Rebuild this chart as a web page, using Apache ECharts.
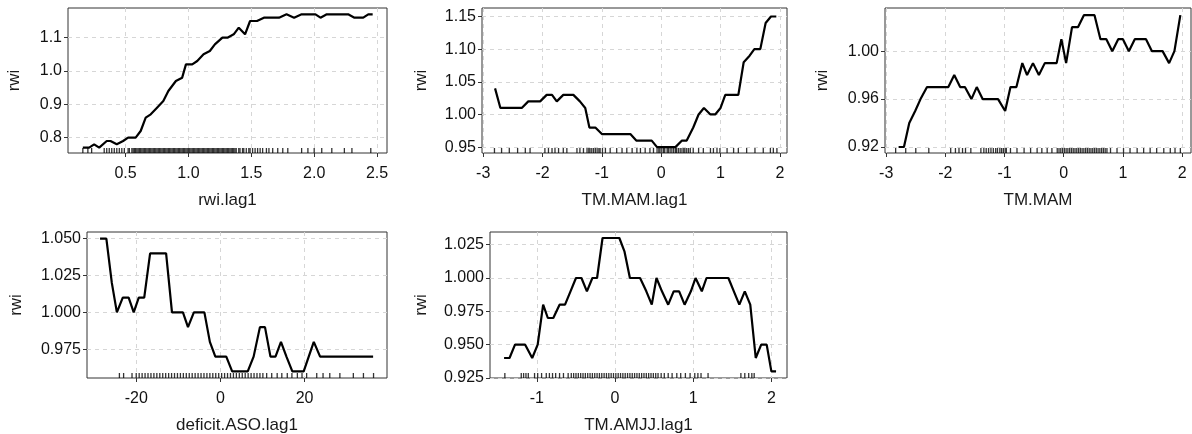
<!DOCTYPE html>
<html>
<head>
<meta charset="UTF-8">
<title>rwi partial dependence</title>
<script src="https://cdn.jsdelivr.net/npm/echarts@6/dist/echarts.min.js"></script>
<style type="text/css">
html, body { margin: 0; padding: 0; background: #fff; }
#main { width: 1192px; height: 434px; }
</style>
</head>
<body>
<div id="main"></div>
<script type="text/javascript">
// panel 1: rwi.lag1
var rwiLag1X = [0.16,0.21,0.25,0.29,0.35,0.38,0.43,0.48,0.52,0.58,0.62,0.66,0.70,0.75,0.80,0.84,0.90,0.95,0.98,1.03,1.07,1.12,1.17,1.21,1.27,1.31,1.36,1.40,1.45,1.49,1.545,1.60,1.72,1.78,1.84,1.90,2.01,2.05,2.10,2.27,2.32,2.39,2.43,2.465];
var rwiLag1Y = [0.77,0.77,0.78,0.77,0.79,0.79,0.78,0.79,0.80,0.80,0.82,0.86,0.87,0.89,0.91,0.94,0.97,0.98,1.02,1.02,1.03,1.05,1.06,1.08,1.10,1.10,1.11,1.13,1.11,1.15,1.15,1.16,1.16,1.17,1.16,1.17,1.17,1.16,1.17,1.17,1.16,1.16,1.17,1.17];
var rwiLag1Rug = [0.16,0.20,0.23,0.33,0.35,0.37,0.39,0.41,0.43,0.45,0.47,0.49,0.52,0.53,0.55,0.56,0.57,0.58,0.59,0.60,0.61,0.62,0.63,0.64,0.65,0.66,0.67,0.68,0.69,0.70,0.71,0.72,0.73,0.74,0.75,0.76,0.77,0.78,0.79,0.80,0.81,0.82,0.83,0.84,0.85,0.86,0.87,0.88,0.89,0.90,0.91,0.92,0.93,0.94,0.95,0.96,0.97,0.98,0.99,1.00,1.01,1.02,1.03,1.04,1.05,1.06,1.07,1.08,1.09,1.10,1.11,1.12,1.13,1.14,1.15,1.16,1.17,1.18,1.19,1.20,1.21,1.22,1.23,1.24,1.25,1.26,1.27,1.28,1.29,1.30,1.31,1.32,1.33,1.34,1.35,1.36,1.37,1.38,1.40,1.41,1.43,1.44,1.46,1.48,1.49,1.51,1.53,1.55,1.57,1.59,1.62,1.64,1.67,1.71,1.75,1.79,1.90,1.95,2.00,2.06,2.14,2.24,2.30,2.45];

// panel 2: TM.MAM.lag1
var tmMamLag1X = [-2.80,-2.71,-2.35,-2.24,-2.04,-1.93,-1.84,-1.76,-1.65,-1.48,-1.37,-1.28,-1.21,-1.11,-1.00,-0.52,-0.42,-0.16,-0.07,0.24,0.35,0.43,0.54,0.63,0.72,0.83,0.91,1.00,1.08,1.30,1.39,1.49,1.57,1.67,1.76,1.85,1.94];
var tmMamLag1Y = [1.04,1.01,1.01,1.02,1.02,1.03,1.03,1.02,1.03,1.03,1.02,1.01,0.98,0.98,0.97,0.97,0.96,0.96,0.95,0.95,0.96,0.96,0.98,1.00,1.01,1.00,1.00,1.01,1.03,1.03,1.08,1.09,1.10,1.10,1.14,1.15,1.15];
var tmMamLag1Rug = [-2.81,-2.69,-2.56,-2.42,-2.29,-2.21,-1.96,-1.90,-1.84,-1.79,-1.73,-1.65,-1.59,-1.42,-1.37,-1.31,-1.25,-1.22,-1.20,-1.17,-1.14,-1.11,-1.08,-1.05,-1.03,-0.99,-0.94,-0.86,-0.75,-0.66,-0.58,-0.49,-0.41,-0.35,-0.27,-0.19,-0.13,-0.07,-0.04,-0.02,0.01,0.04,0.06,0.10,0.12,0.15,0.18,0.21,0.24,0.26,0.29,0.32,0.35,0.38,0.40,0.43,0.46,0.49,0.54,0.63,0.71,0.83,0.88,0.94,0.99,1.11,1.22,1.30,1.44,1.58,1.72,1.84,1.89,1.95];

// panel 3: TM.MAM
var tmMamX = [-2.79,-2.70,-2.61,-2.51,-2.42,-2.31,-1.95,-1.85,-1.75,-1.67,-1.56,-1.47,-1.37,-1.11,-0.99,-0.90,-0.80,-0.70,-0.62,-0.52,-0.42,-0.32,-0.12,-0.04,0.04,0.14,0.24,0.34,0.52,0.62,0.72,0.82,0.92,1.00,1.10,1.20,1.39,1.49,1.67,1.78,1.87,1.97];
var tmMamY = [0.92,0.92,0.94,0.95,0.96,0.97,0.97,0.98,0.97,0.97,0.96,0.97,0.96,0.96,0.95,0.97,0.97,0.99,0.98,0.99,0.98,0.99,0.99,1.01,0.99,1.02,1.02,1.03,1.03,1.01,1.01,1.00,1.01,1.01,1.00,1.01,1.01,1.00,1.00,0.99,1.00,1.03];
var tmMamRug = [-2.84,-2.67,-2.50,-2.28,-1.91,-1.83,-1.77,-1.71,-1.66,-1.57,-1.40,-1.35,-1.31,-1.27,-1.23,-1.19,-1.15,-1.12,-1.08,-1.05,-1.02,-0.99,-0.97,-0.90,-0.79,-0.67,-0.56,-0.45,-0.37,-0.28,-0.20,-0.11,-0.08,-0.05,-0.02,0.01,0.04,0.07,0.10,0.13,0.16,0.19,0.22,0.25,0.28,0.31,0.34,0.37,0.40,0.43,0.46,0.49,0.52,0.55,0.58,0.61,0.64,0.67,0.70,0.73,0.79,0.90,1.01,1.12,1.24,1.35,1.46,1.57,1.69,1.80,1.88,1.97];

// panel 4: deficit.ASO.lag1
var deficitX = [-28.6,-27.1,-25.8,-24.6,-23.2,-21.8,-20.6,-19.4,-18.1,-16.7,-12.9,-11.5,-8.9,-7.7,-6.3,-3.8,-2.5,-1.2,1.4,2.8,6.5,7.9,9.4,10.6,11.9,13.1,14.4,15.7,17.1,19.8,22.2,23.7,36.3];
var deficitY = [1.05,1.05,1.02,1.00,1.01,1.01,1.00,1.01,1.01,1.04,1.04,1.00,1.00,0.99,1.00,1.00,0.98,0.97,0.97,0.96,0.96,0.97,0.99,0.99,0.97,0.97,0.98,0.97,0.96,0.96,0.98,0.97,0.97];
var deficitRug = [-24.0,-23.0,-21.0,-20.0,-19.3,-18.6,-17.9,-17.2,-16.5,-15.8,-15.1,-14.4,-13.7,-13.0,-12.3,-11.6,-10.9,-10.2,-9.5,-8.8,-8.1,-7.4,-6.7,-6.0,-5.3,-4.6,-3.9,-3.2,-2.5,-1.8,-1.1,-0.4,0.3,1.0,1.7,2.4,3.1,3.8,4.5,5.2,5.9,6.6,7.3,8.0,8.7,9.4,10.1,11.0,12.2,13.5,14.6,15.9,17.0,18.3,19.4,20.5,22.9,24.4,26.0,28.4,31.6,34.0,36.4];

// panel 5: TM.AMJJ.lag1
var tmAmjjX = [-1.42,-1.35,-1.28,-1.15,-1.06,-0.99,-0.92,-0.86,-0.79,-0.71,-0.64,-0.57,-0.50,-0.43,-0.36,-0.29,-0.23,-0.16,0.055,0.12,0.19,0.32,0.40,0.47,0.53,0.60,0.68,0.75,0.82,0.89,0.97,1.03,1.11,1.17,1.45,1.52,1.59,1.66,1.73,1.80,1.87,1.94,2.00,2.06];
var tmAmjjY = [0.94,0.94,0.95,0.95,0.94,0.95,0.98,0.97,0.97,0.98,0.98,0.99,1.00,1.00,0.99,1.00,1.00,1.03,1.03,1.02,1.00,1.00,0.99,0.98,1.00,0.99,0.98,0.99,0.99,0.98,0.99,1.00,0.99,1.00,1.00,0.99,0.98,0.99,0.98,0.94,0.95,0.95,0.93,0.93];
var tmAmjjRug = [-1.41,-1.20,-1.17,-1.14,-1.11,-1.03,-0.99,-0.94,-0.88,-0.84,-0.80,-0.76,-0.71,-0.66,-0.60,-0.56,-0.53,-0.50,-0.47,-0.44,-0.41,-0.38,-0.35,-0.32,-0.29,-0.26,-0.23,-0.20,-0.17,-0.14,-0.11,-0.08,-0.05,-0.02,0.01,0.04,0.07,0.10,0.13,0.16,0.19,0.22,0.25,0.28,0.31,0.34,0.37,0.40,0.43,0.46,0.49,0.52,0.55,0.59,0.63,0.68,0.73,0.79,0.84,0.90,0.96,1.02,1.06,1.10,1.19,1.61,1.66,1.71,1.75,1.78];

// tick values
var xTicks1 = [0.5, 1.0, 1.5, 2.0, 2.5];
var yTicks1 = [0.8, 0.9, 1.0, 1.1];
var xTicks2 = [-3, -2, -1, 0, 1, 2];
var yTicks2 = [0.95, 1.00, 1.05, 1.10, 1.15];
var xTicks3 = [-3, -2, -1, 0, 1, 2];
var yTicks3 = [0.92, 0.96, 1.00];
var xTicks4 = [-20, 0, 20];
var yTicks4 = [0.975, 1.000, 1.025, 1.050];
var xTicks5 = [-1, 0, 1, 2];
var yTicks5 = [0.925, 0.950, 0.975, 1.000, 1.025];

var panels = [
	{ name: 'rwi.lag1', x: rwiLag1X, y: rwiLag1Y, rug: rwiLag1Rug, xt: xTicks1, yt: yTicks1, xd: 1, yd: 1,
	  xr: [0.042, 2.579], yr: [0.754, 1.189], box: [68, 8, 319, 145], yGap: 45 },
	{ name: 'TM.MAM.lag1', x: tmMamLag1X, y: tmMamLag1Y, rug: tmMamLag1Rug, xt: xTicks2, yt: yTicks2, xd: 0, yd: 2,
	  xr: [-3.02, 2.12], yr: [0.941, 1.163], box: [482, 8, 305, 145], yGap: 52 },
	{ name: 'TM.MAM', x: tmMamX, y: tmMamY, rug: tmMamRug, xt: xTicks3, yt: yTicks3, xd: 0, yd: 2,
	  xr: [-3.02, 2.15], yr: [0.915, 1.036], box: [885, 8, 306, 145], yGap: 54 },
	{ name: 'deficit.ASO.lag1', x: deficitX, y: deficitY, rug: deficitRug, xt: xTicks4, yt: yTicks4, xd: 0, yd: 3,
	  xr: [-31.7, 39.6], yr: [0.9555, 1.0545], box: [87, 232, 300, 146], yGap: 62 },
	{ name: 'TM.AMJJ.lag1', x: tmAmjjX, y: tmAmjjY, rug: tmAmjjRug, xt: xTicks5, yt: yTicks5, xd: 0, yd: 3,
	  xr: [-1.60, 2.20], yr: [0.925, 1.0345], box: [490, 232, 297, 146], yGap: 60 }
];

var FONT = "'Liberation Sans', Arial, sans-serif";
var grids = [], xAxes = [], yAxes = [], series = [];

panels.forEach(function (p, i) {
	grids.push({
		left: p.box[0], top: p.box[1], width: p.box[2], height: p.box[3],
		show: true, borderColor: '#333', borderWidth: 1, backgroundColor: 'transparent',
		containLabel: false, outerBoundsMode: 'none'
	});
	var xd = p.xd, yd = p.yd;
	xAxes.push({
		type: 'value', gridIndex: i, min: p.xr[0], max: p.xr[1],
		name: p.name, nameLocation: 'middle', nameGap: 39,
		nameTextStyle: { fontFamily: FONT, fontSize: 17, color: '#1a1a1a' },
		axisLine: { show: false, onZero: false },
		axisTick: { show: true, length: 4, customValues: p.xt, lineStyle: { color: '#333' } },
		axisLabel: { customValues: p.xt, margin: 13, fontFamily: FONT, fontSize: 16, color: '#111',
			formatter: function (v) { return v.toFixed(xd); } },
		splitLine: { show: true, lineStyle: { color: '#d6d6d6', type: [4, 4], width: 1 } }
	});
	yAxes.push({
		type: 'value', gridIndex: i, min: p.yr[0], max: p.yr[1],
		name: 'rwi', nameLocation: 'middle', nameGap: p.yGap, nameRotate: 90,
		nameTextStyle: { fontFamily: FONT, fontSize: 17, color: '#1a1a1a' },
		axisLine: { show: false, onZero: false },
		axisTick: { show: true, length: 4, customValues: p.yt, lineStyle: { color: '#333' } },
		axisLabel: { customValues: p.yt, margin: 6, fontFamily: FONT, fontSize: 16, color: '#111',
			formatter: function (v) { return v.toFixed(yd); } },
		splitLine: { show: true, lineStyle: { color: '#d6d6d6', type: [4, 4], width: 1 } }
	});
	series.push({
		type: 'line', xAxisIndex: i, yAxisIndex: i,
		data: p.x.map(function (v, k) { return [v, p.y[k]]; }),
		showSymbol: false, symbol: 'none',
		lineStyle: { color: '#000', width: 2.2 },
		z: 5
	});
	// rug ticks along the bottom of the panel
	series.push({
		type: 'scatter', xAxisIndex: i, yAxisIndex: i,
		data: p.rug.map(function (v) { return [v, p.yr[0]]; }),
		symbol: 'rect', symbolSize: [1.3, 5], symbolOffset: [0, -2.5],
		itemStyle: { color: '#000' },
		silent: true, z: 4
	});
});

var myChart = echarts.init(document.getElementById('main'), null, { renderer: 'canvas' });
myChart.setOption({
	animation: false,
	backgroundColor: '#fff',
	grid: grids,
	xAxis: xAxes,
	yAxis: yAxes,
	series: series
});
</script>
</body>
</html>
